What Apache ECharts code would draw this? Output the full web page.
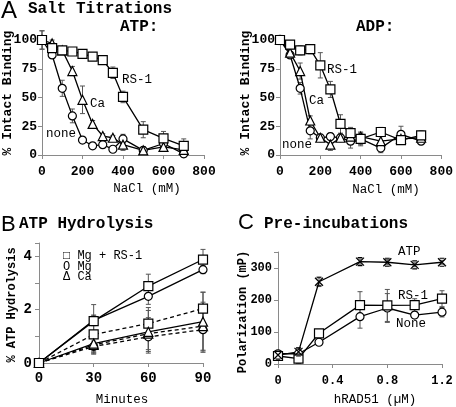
<!DOCTYPE html>
<html><head><meta charset="utf-8">
<script src="https://cdn.jsdelivr.net/npm/echarts@6/dist/echarts.min.js"></script>
<style>html,body{margin:0;padding:0;background:#fff}#c{width:456px;height:407px}</style>
</head><body><div id="c"></div>
<script>
// ---- Panel A data (NaCl titrations) ----
const nacl = [0,50,100,150,200,250,300,350,400,500,600,700];
const atpRS1 = [100,93,91,90,88,85.5,82.5,71.5,50.5,22,14.5,8];
const atpRS1Err = [8,4,3,2,2,2,2,5,5,7,6,6];
const atpCa = [100,97,91,73,48,27,16.5,15,9,4,7,4.5];
const atpCaErr = [3,3,3,4,12,3,2,2,5,3,3,3];
const atpNone = [100,87,58,34,13,8,9,5,14,4,10,1];
const atpNoneErr = [8,3,7,6,2,2,2,2,4,3,3,3];
const adpRS1 = [100,96,91,92,78,57,27,19,14,20,13,17];
const adpRS1Err = [4,3,4,4,11,7,8,5,5,4,3,4];
const adpCa = [100,89,73,30,15,9,15,16,16,12,14,15];
const adpCaErr = [3,3,7,4,2,5,3,3,3,4,3,3];
const adpNone = [100,87,58,21,15,16,15,12,14,6,18,12];
const adpNoneErr = [3,3,5,7,3,3,3,6,6,4,7,3];
// ---- Panel B data (ATP hydrolysis) ----
const minutes = [0,30,60,90];
const bMgRS1 = [0,1.57,2.88,3.88];     const bMgRS1Err = [0,0.62,0.45,0.38];
const bMg = [0,1.6,2.5,3.5];            const bMgErr = [0,0.2,0.3,0.15];
const bCa = [0,0.73,1.17,1.55];         const bCaErr = [0,0.4,0.8,1.1];
const bMgRS1D = [0,1.07,1.48,2.04];     const bMgRS1DErr = [0,0.7,0.6,0.62];
const bCaD = [0,0.68,1.1,1.38];         const bCaDErr = [0,0.3,0.6,0.9];
const bMgD = [0,0.62,0.98,1.25];        const bMgDErr = [0,0.2,0.55,0.85];
// ---- Panel C data (pre-incubations) ----
const rad51 = [0,0.15,0.3,0.6,0.8,1.0,1.2];
const cATP = [28,38,257,320,318,310,318];  const cATPErr = [10,12,15,8,8,6,6];
const cRS1 = [25,17,96,184,183,184,204];   const cRS1Err = [8,15,8,42,50,20,25];
const cNone = [32,32,68,148,175,153,162];  const cNoneErr = [8,8,10,36,45,10,15];

const MONO = "'Liberation Mono','DejaVu Sans Mono',monospace";
const SANS = "'Liberation Sans',Arial,sans-serif";
const AX = '#8a8a8a';
const XSYM = 'path://M0,0L10,10M10,0L0,10M2,0L8,0M2,10L8,10';

function pairs(xs, ys){ return xs.map((x,i)=>[x,ys[i]]); }
function line(xs, ys, idx, symbol, size, dashed){
  return {type:'line', xAxisIndex:idx, yAxisIndex:idx, data:pairs(xs,ys),
    symbol:symbol, symbolSize:size, showSymbol:true, z:3,
    lineStyle:{color:'#000', width:1.3, type: dashed ? [4,3] : 'solid'},
    itemStyle:{color:'#fff', borderColor:'#000', borderWidth:1.2},
    emphasis:{disabled:true}, animation:false};
}
function err(xs, ys, es, idx){
  return {type:'custom', xAxisIndex:idx, yAxisIndex:idx, z:2, silent:true, animation:false,
    encode:{x:0, y:1},
    data: xs.map((x,i)=>[x, ys[i], es[i]]),
    renderItem:(params, api)=>{
      const x=api.value(0), y=api.value(1), e=api.value(2);
      if(!e) return null;
      const p1=api.coord([x,y+e]), p2=api.coord([x,y-e]);
      const st={stroke:'#555', lineWidth:1};
      return {type:'group', children:[
        {type:'line', shape:{x1:p1[0],y1:p1[1],x2:p2[0],y2:p2[1]}, style:st},
        {type:'line', shape:{x1:p1[0]-2.5,y1:p1[1],x2:p1[0]+2.5,y2:p1[1]}, style:st},
        {type:'line', shape:{x1:p2[0]-2.5,y1:p2[1],x2:p2[0]+2.5,y2:p2[1]}, style:st}]};
    }};
}
function xAx(gi, min, max, interval, fs, margin){
  return {type:'value', gridIndex:gi, min, max, interval,
    axisLine:{show:true, onZero:false, lineStyle:{color:AX, width:1}},
    axisTick:{show:true, length:4, lineStyle:{color:AX}},
    splitLine:{show:false},
    axisLabel:{color:'#000', fontFamily:MONO, fontWeight:'bold', fontSize:fs, margin,
      formatter:v=>String(Math.round(v*100)/100)}};
}
function yAx(gi, min, max, interval, fs, margin, fmt){
  return {type:'value', gridIndex:gi, min, max, interval,
    axisLine:{show:true, onZero:false, lineStyle:{color:AX, width:1}},
    axisTick:{show:true, length:4, lineStyle:{color:AX}},
    splitLine:{show:false},
    axisLabel:{color:'#000', fontFamily:MONO, fontWeight:'bold', fontSize:fs, margin,
      showMaxLabel:true, formatter: fmt || (v=>String(v))}};
}
function txt(t, x, y, fs, opts){
  opts = opts || {};
  return {type:'text', x, y, rotation: opts.rot || 0, silent:true,
    style:{text:t, fill:'#000', font:(opts.weight||'bold')+' '+fs+'px '+(opts.family||MONO),
      align: opts.align || 'left', verticalAlign:'middle'}};
}
const N = {weight:'normal'};

const chart = echarts.init(document.getElementById('c'), null, {renderer:'canvas'});
chart.setOption({
  animation:false,
  backgroundColor:'#fff',
  grid:[
    {left:42, top:40, width:162, height:115},
    {left:280, top:40, width:162, height:115},
    {left:39, top:243, width:164, height:120},
    {left:278, top:252, width:164, height:112}
  ],
  xAxis:[
    xAx(0,0,800,200,13,10),
    xAx(1,0,800,200,13,10),
    xAx(2,0,90,30,14,8),
    xAx(3,0,1.2,0.4,12,11)
  ],
  yAxis:[
    yAx(0,0,100,25,13,5),
    yAx(1,0,100,25,13,5),
    yAx(2,0,4.5,1,14,7, v=>(v%2===0 ? String(v) : '')),
    yAx(3,0,350,100,12,6, v=>(v>300 ? '' : String(v)))
  ],
  series:[
    err(nacl, atpRS1, atpRS1Err, 0), err(nacl, atpCa, atpCaErr, 0), err(nacl, atpNone, atpNoneErr, 0),
    line(nacl, atpNone, 0, 'circle', 8), line(nacl, atpCa, 0, 'triangle', 9), line(nacl, atpRS1, 0, 'rect', 9),
    err(nacl, adpRS1, adpRS1Err, 1), err(nacl, adpCa, adpCaErr, 1), err(nacl, adpNone, adpNoneErr, 1),
    line(nacl, adpNone, 1, 'circle', 8), line(nacl, adpCa, 1, 'triangle', 9), line(nacl, adpRS1, 1, 'rect', 9),
    err(minutes, bMgRS1, bMgRS1Err, 2), err(minutes, bMg, bMgErr, 2), err(minutes, bCa, bCaErr, 2),
    err(minutes, bMgRS1D, bMgRS1DErr, 2), err(minutes, bCaD, bCaDErr, 2), err(minutes, bMgD, bMgDErr, 2),
    line(minutes, bMgD, 2, 'circle', 8, true), line(minutes, bCaD, 2, 'triangle', 9, true),
    line(minutes, bMgRS1D, 2, 'rect', 9, true),
    line(minutes, bCa, 2, 'triangle', 9), line(minutes, bMg, 2, 'circle', 8), line(minutes, bMgRS1, 2, 'rect', 9),
    err(rad51, cATP, cATPErr, 3), err(rad51, cRS1, cRS1Err, 3), err(rad51, cNone, cNoneErr, 3),
    line(rad51, cNone, 3, 'circle', 8), line(rad51, cRS1, 3, 'rect', 9),
    line(rad51, cATP, 3, XSYM, 8)
  ],
  graphic:[
    txt('A', 1, 11, 24, {weight:'normal', family:SANS}),
    txt('Salt Titrations', 28, 9, 16),
    txt('ATP:', 120, 27, 16),
    txt('ADP:', 356, 27, 16),
    txt('% Intact Binding', 8, 93, 13, {rot:Math.PI/2, align:'center'}),
    txt('% Intact Binding', 246, 93, 13, {rot:Math.PI/2, align:'center'}),
    txt('NaCl (mM)', 147, 189, 12.5, {align:'center', weight:'normal'}),
    txt('NaCl (mM)', 386, 190, 12.5, {align:'center', weight:'normal'}),
    txt('RS-1', 122, 80, 12.5, N),
    txt('Ca', 90, 104, 12.5, N),
    txt('none', 46, 134, 12.5, N),
    txt('RS-1', 327, 70, 12.5, N),
    txt('Ca', 309, 101, 12.5, N),
    txt('none', 282, 145, 12.5, N),
    txt('B', 1, 225, 22, {weight:'normal', family:SANS}),
    txt('ATP Hydrolysis', 19, 224, 16),
    txt('% ATP Hydrolysis', 12, 305, 12, {rot:Math.PI/2, align:'center'}),
    txt('Minutes', 122, 400, 12.5, {align:'center', weight:'normal'}),
    txt('\u25A1 Mg + RS-1', 63, 256, 12, N),
    txt('O Mg', 63, 267, 12, N),
    txt('\u0394 Ca', 63, 277, 12, N),
    txt('C', 238, 223, 22, {weight:'normal', family:SANS}),
    txt('Pre-incubations', 264, 224, 16),
    txt('Polarization (mP)', 243, 312, 12, {rot:Math.PI/2, align:'center'}),
    txt('hRAD51 (\u00B5M)', 375, 400, 12.5, {align:'center', weight:'normal'}),
    txt('ATP', 398, 252, 12.5, N),
    txt('RS-1', 398, 296, 12.5, N),
    txt('None', 396, 324, 12.5, N)
  ]
});
</script>
</body></html>
